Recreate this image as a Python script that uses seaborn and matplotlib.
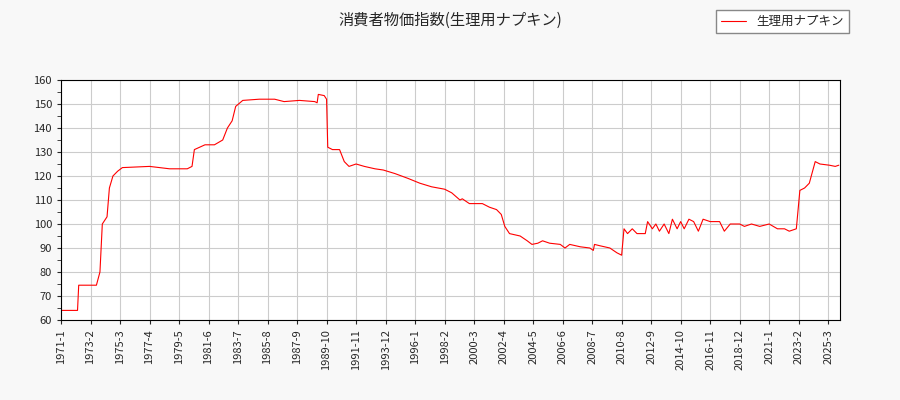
import pandas as pd
import matplotlib.pyplot as plt
import seaborn as sns
from matplotlib.ticker import MultipleLocator

dates = ['1971-01', '1972-03', '1972-04', '1973-07', '1973-10', '1973-12', '1974-04', '1974-06',
         '1974-09', '1975-01', '1975-05', '1977-04', '1978-09', '1979-12', '1980-04', '1980-06',
         '1981-03', '1981-11', '1982-06', '1982-10', '1983-02', '1983-05', '1983-11', '1985-01',
         '1986-02', '1986-10', '1987-11', '1988-12', '1989-02', '1989-03', '1989-08', '1989-10',
         '1989-11', '1990-03', '1990-09', '1991-01', '1991-05', '1991-11', '1992-06', '1993-03',
         '1993-10', '1994-08', '1995-07', '1996-05', '1997-03', '1998-02', '1998-08', '1999-03',
         '1999-05', '1999-11', '2000-10', '2001-04', '2001-10', '2002-02', '2002-05', '2002-09',
         '2003-06', '2003-12', '2004-04', '2004-09', '2005-01', '2005-07', '2006-04', '2006-08',
         '2006-12', '2007-09', '2008-05', '2008-08', '2008-09', '2009-01', '2009-10', '2010-04',
         '2010-08', '2010-10', '2011-01', '2011-05', '2011-09', '2012-04', '2012-06', '2012-10',
         '2013-01', '2013-04', '2013-08', '2013-12', '2014-03', '2014-07', '2014-10', '2015-01',
         '2015-05', '2015-09', '2016-01', '2016-05', '2016-11', '2017-07', '2017-11', '2018-04',
         '2018-12', '2019-04', '2019-10', '2020-05', '2021-01', '2021-08', '2022-02', '2022-06',
         '2022-12', '2023-03', '2023-07', '2023-11', '2024-04', '2024-08', '2025-04', '2025-09',
         '2025-12']
values = [64, 64, 74.5, 74.5, 80, 100, 103, 115,
          120, 122, 123.5, 124, 123, 123, 124, 131,
          133, 133, 135, 140, 143, 149, 151.5, 152,
          152, 151, 151.5, 151, 150.5, 154, 153.5, 152,
          132, 131, 131, 126, 124, 125, 124, 123,
          122.5, 121, 119, 117, 115.5, 114.5, 113, 110,
          110.5, 108.5, 108.5, 107, 106, 104, 99, 96,
          95, 93, 91.5, 92, 93, 92, 91.5, 90,
          91.5, 90.5, 90, 89, 91.5, 91, 90, 88,
          87, 98, 96, 98, 96, 96, 101, 98,
          100, 97, 100, 96, 102, 98, 101, 98,
          102, 101, 97, 102, 101, 101, 97, 100,
          100, 99, 100, 99, 100, 98, 98, 97,
          98, 114, 115, 117, 126, 125, 124.5, 124,
          124.5]
label = '生理用ナプキン'

df = pd.DataFrame({'date': pd.PeriodIndex(dates, freq='M'), 'value': values})
start = pd.Period('1971-01', freq='M')
df['idx'] = [(p - start).n for p in df['date']]

sns.set_style('white')
plt.rcParams['font.family'] = ['Noto Sans CJK JP', 'DejaVu Sans']

fig = plt.figure(figsize=(9, 4), dpi=100, facecolor='#f8f8f8')
ax = fig.add_axes([61/900, 80/400, 779/900, 240/400])
sns.lineplot(data=df, x='idx', y='value', color='red', linewidth=0.8, label=label, ax=ax, legend=False)

ticks = list(range(0, 661, 25))
ax.set_xticks(ticks)
ax.set_xticklabels([str(start + t) .replace('-0', '-') for t in ticks], rotation=90, fontsize=8)
ax.set_xlim(0, 660)
ax.set_ylim(60, 160)
ax.yaxis.set_major_locator(MultipleLocator(10))
ax.yaxis.set_minor_locator(MultipleLocator(5))
ax.tick_params(axis='y', labelsize=8, which='both', left=True, length=3)
ax.tick_params(axis='x', bottom=True, length=3)
ax.grid(True, color='#cccccc', linewidth=0.8)
ax.set_xlabel('')
ax.set_ylabel('')
for s in ax.spines.values():
    s.set_color('black')
    s.set_linewidth(0.8)

fig.suptitle('消費者物価指数(生理用ナプキン)', y=0.97, fontsize=11)
fig.legend(loc='upper right', bbox_to_anchor=(0.95, 0.99), fontsize=9, fancybox=False,
           edgecolor='#888888', facecolor='white', framealpha=1)
fig.savefig('out.png', facecolor=fig.get_facecolor())
